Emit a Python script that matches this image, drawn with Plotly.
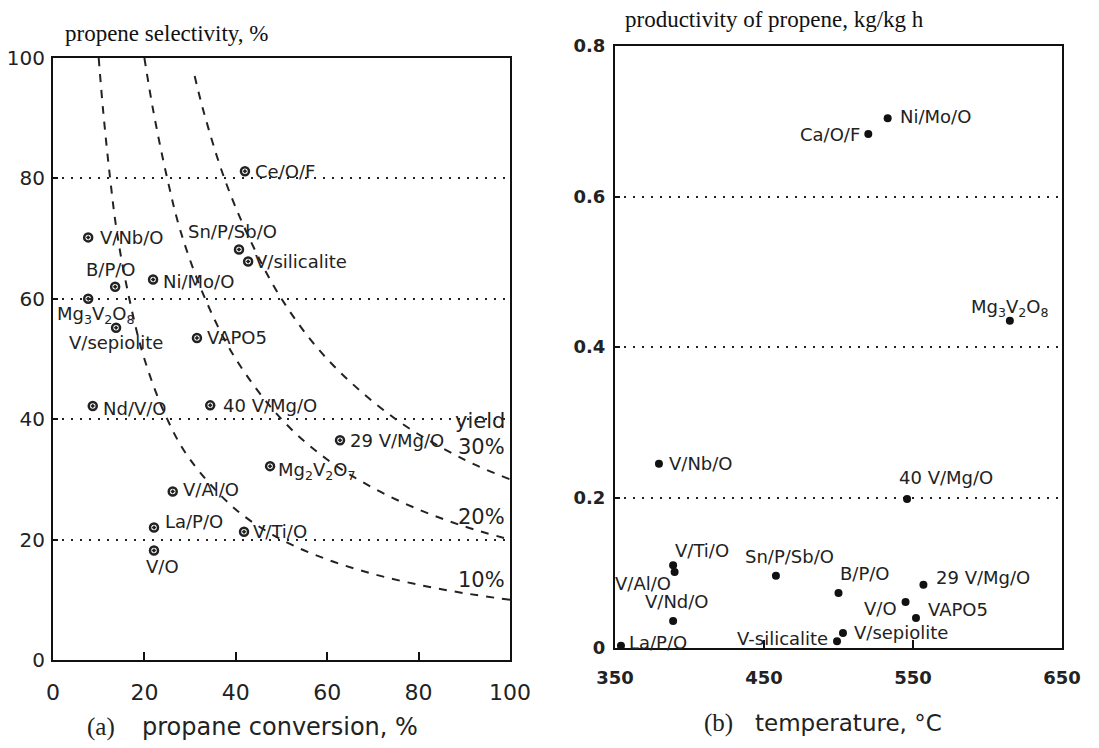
import plotly.graph_objects as go

# ---------- panel (a): selectivity vs conversion ----------
cat_a = ["Ce/O/F", "V/Nb/O", "Sn/P/Sb/O", "V/silicalite", "B/P/O", "Ni/Mo/O",
         "Mg<sub>3</sub>V<sub>2</sub>O<sub>8</sub>", "V/sepiolite", "VAPO5", "Nd/V/O",
         "40 V/Mg/O", "29 V/Mg/O", "Mg<sub>2</sub>V<sub>2</sub>O<sub>7</sub>", "V/Al/O",
         "La/P/O", "V/Ti/O", "V/O"]
conv_a = [42.0, 7.7, 40.7, 42.7, 13.6, 21.9, 7.7, 13.8, 31.5, 8.7, 34.4, 62.8, 47.5,
          26.2, 22.1, 41.8, 22.1]
sel_a = [81.2, 70.2, 68.2, 66.2, 62.0, 63.2, 60.0, 55.2, 53.5, 42.2, 42.3, 36.5, 32.2,
         28.0, 22.0, 21.3, 18.2]

# iso-yield curves
y10_x = [10, 11, 12.5, 14, 16.7, 20, 25, 30, 40, 50, 60, 70, 80, 90, 100]
y10_s = [100, 91, 80, 71, 60, 50, 40, 33.3, 25, 20, 16.7, 14.3, 12.5, 11.1, 10]
y20_x = [20, 22, 25, 28, 33.3, 40, 50, 60, 70, 80, 90, 100]
y20_s = [100, 91, 80, 71, 60, 50, 40, 33.3, 28.6, 25, 22.2, 20]
y30_x = [31, 33, 37.5, 43, 50, 60, 75, 90, 100]
y30_s = [97, 91, 80, 70, 60, 50, 40, 33.3, 30]
yield_labels = ["yield", "30%", "20%", "10%"]
yield_label_y = [39.7, 35.3, 23.8, 13.3]

xticks_a = [0, 20, 40, 60, 80, 100]
yticks_a = [0, 20, 40, 60, 80, 100]

# ---------- panel (b): productivity vs temperature ----------
cat_b = ["Ni/Mo/O", "Ca/O/F", "Mg<sub>3</sub>V<sub>2</sub>O<sub>8</sub>", "V/Nb/O",
         "40 V/Mg/O", "V/Ti/O", "V/Al/O", "Sn/P/Sb/O", "B/P/O", "29 V/Mg/O", "V/O",
         "VAPO5", "V/Nd/O", "V/sepiolite", "V-silicalite", "La/P/O"]
temp_b = [533, 520, 615, 379.5, 546, 389, 390, 458, 500, 557, 545, 552, 389, 503, 499, 354]
prod_b = [0.704, 0.683, 0.435, 0.245, 0.198, 0.110, 0.101, 0.096, 0.073, 0.084, 0.061,
          0.040, 0.036, 0.020, 0.009, 0.003]

xticks_b = [350, 450, 550, 650]
yticks_b = [0, 0.2, 0.4, 0.6, 0.8]
ytick_b_text = ["0", "0.2", "0.4", "0.6", "0.8"]

# ---------- label placement (anchor, x shift px, y shift px) ----------
lab_a = [("left", 8, 0), ("left", 10, 0), ("center", -7, 18), ("left", 5, 0),
         ("center", -4, 17), ("left", 8, -2), ("center", 8, -16), ("center", 0, -15),
         ("left", 8, 0), ("left", 8, -3), ("left", 11, 0), ("left", 8, 0),
         ("left", 6, -5), ("left", 8, 2), ("left", 9, 6), ("left", 7, 0),
         ("center", 8, -16)]
lab_b = [("left", 10, 2), ("right", -6, 0), ("center", 0, 13), ("left", 8, 0),
         ("left", -10, 22), ("left", 0, 15), ("right", -2, -11), ("center", 14, 19),
         ("left", -1, 20), ("left", 11, 7), ("right", -7, -6), ("left", 10, 8),
         ("center", 4, 19), ("left", 9, 0), ("right", -7, 3), ("left", 6, 3)]

SANS = "DejaVu Sans"
SERIF = "Liberation Serif"
INK = "#222"

W, H, OFF = 1099, 748, 8  # page body margin shifts the figure by 8px


def xp(px):
    return (px - OFF) / W


def yp(py):
    return 1 - (py - OFF) / H


fig = go.Figure()

for xs, ss in [(y10_x, y10_s), (y20_x, y20_s), (y30_x, y30_s)]:
    fig.add_trace(go.Scatter(x=xs, y=ss, mode="lines", xaxis="x", yaxis="y",
                             line=dict(color=INK, width=2, dash="8px,8px", shape="spline"),
                             hoverinfo="skip", showlegend=False))

fig.add_trace(go.Scatter(x=conv_a, y=sel_a, mode="markers", xaxis="x", yaxis="y",
                         marker=dict(symbol="circle-open-dot", size=8, color=INK,
                                     line=dict(width=2.5, color=INK)),
                         showlegend=False, cliponaxis=False))

fig.add_trace(go.Scatter(x=temp_b, y=prod_b, mode="markers", xaxis="x2", yaxis="y2",
                         marker=dict(symbol="circle", size=8, color="#111"),
                         showlegend=False, cliponaxis=False))

for name, xv, yv, (anc, dx, dy) in zip(cat_a, conv_a, sel_a, lab_a):
    fig.add_annotation(x=xv, y=yv, xref="x", yref="y", text=name, showarrow=False,
                       xanchor=anc, yanchor="middle", xshift=dx, yshift=dy,
                       font=dict(family=SANS, size=18, color=INK))

for name, xv, yv, (anc, dx, dy) in zip(cat_b, temp_b, prod_b, lab_b):
    fig.add_annotation(x=xv, y=yv, xref="x2", yref="y2", text=name, showarrow=False,
                       xanchor=anc, yanchor="middle", xshift=dx, yshift=dy,
                       font=dict(family=SANS, size=18, color=INK))

axis_common = dict(showline=True, mirror=True, linecolor="#111", linewidth=2,
                   ticks="inside", tickcolor="#111", zeroline=False, automargin=False)

fig.update_layout(
    width=W, height=H,
    margin=dict(l=0, r=0, t=0, b=0, pad=0),
    paper_bgcolor="white", plot_bgcolor="white",
    xaxis=dict(domain=[xp(53), xp(510)], range=[0, 100], tickvals=xticks_a,
               ticklen=8, tickwidth=2, showgrid=False, anchor="y",
               tickfont=dict(family=SANS, size=22, color=INK),
               ticklabelstandoff=12, **axis_common),
    yaxis=dict(domain=[yp(660), yp(58)], range=[0, 100],
               tickvals=yticks_a, ticklen=5, tickwidth=1.5, anchor="x",
               showgrid=True, gridcolor=INK, gridwidth=2, griddash="2px,7px",
               tickfont=dict(family=SANS, size=20, color=INK),
               ticklabelstandoff=2, **axis_common),
    xaxis2=dict(domain=[xp(615), xp(1062)], range=[350, 650], tickvals=xticks_b,
                ticklen=8, tickwidth=1.5, showgrid=False, anchor="y2",
                tickfont=dict(family=SANS, size=18, color=INK, weight="bold"),
                ticklabelstandoff=12, **axis_common),
    yaxis2=dict(domain=[yp(648), yp(46)], range=[0, 0.8],
                tickvals=yticks_b, ticktext=ytick_b_text, ticklen=5, tickwidth=1.5,
                anchor="x2", showgrid=True, gridcolor=INK, gridwidth=2,
                griddash="2px,7px",
                tickfont=dict(family=SANS, size=18, color=INK, weight="bold"),
                ticklabelstandoff=4, **axis_common),
)

# yield annotations
for txt, yv in zip(yield_labels, yield_label_y):
    fig.add_annotation(x=99.3, y=yv, xref="x", yref="y", text=txt, showarrow=False,
                       xanchor="right", yanchor="middle",
                       font=dict(family=SANS, size=21, color=INK))

# axis titles
fig.add_annotation(x=xp(63), y=yp(33), xref="paper", yref="paper",
                   text="propene selectivity, %", showarrow=False, xanchor="left",
                   yanchor="middle", font=dict(family=SERIF, size=23, color="#111"))
fig.add_annotation(x=xp(623), y=yp(20), xref="paper", yref="paper",
                   text="productivity of propene, kg/kg h", showarrow=False,
                   xanchor="left", yanchor="middle",
                   font=dict(family=SERIF, size=23, color="#111"))
fig.add_annotation(x=xp(85), y=yp(727), xref="paper", yref="paper",
                   text="(a)", showarrow=False, xanchor="left", yanchor="middle",
                   font=dict(family=SERIF, size=25, color=INK))
fig.add_annotation(x=xp(140), y=yp(727), xref="paper", yref="paper",
                   text="propane conversion, %", showarrow=False, xanchor="left",
                   yanchor="middle", font=dict(family=SANS, size=24, color=INK))
fig.add_annotation(x=xp(702), y=yp(723), xref="paper", yref="paper",
                   text="(b)", showarrow=False, xanchor="left", yanchor="middle",
                   font=dict(family=SERIF, size=25, color=INK))
fig.add_annotation(x=xp(753), y=yp(723), xref="paper", yref="paper",
                   text="temperature, °C", showarrow=False, xanchor="left",
                   yanchor="middle", font=dict(family=SANS, size=23, color=INK))

fig.write_html("out.html")
